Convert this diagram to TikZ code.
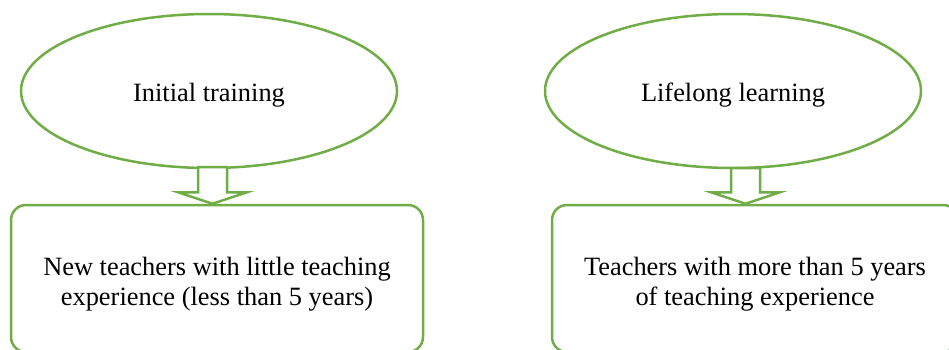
\documentclass[tikz,border=0pt]{standalone}
\usepackage{fontspec}
\setmainfont{Liberation Serif}
\usetikzlibrary{shapes.geometric,calc}
\definecolor{leafgreen}{HTML}{70AD47}

\begin{document}
\begin{tikzpicture}[x=0.5pt,y=-0.5pt,
        oval/.style={ellipse,draw=leafgreen,line width=1.25pt,minimum width=188pt,minimum height=77pt,text height=13pt,font=\fontsize{13.2}{15}\selectfont},
        group/.style={rectangle,rounded corners=7.5pt,draw=leafgreen,line width=1.25pt,minimum height=73.5pt,align=center,font=\fontsize{13.2}{15}\selectfont},
        blockarr/.style={draw=leafgreen,line width=1.25pt,fill=white,line join=miter,
            to path={let \p1=(\tikztostart), \p2=(\tikztotarget) in
                (\x1-7.25pt,\y1) -- (\x1-7.25pt,\y2+5.75pt) -- (\x1-17.25pt,\y2+5.75pt) -- (\x2,\y2)
                -- (\x1+17.25pt,\y2+5.75pt) -- (\x1+7.25pt,\y2+5.75pt) -- (\x1+7.25pt,\y1) -- cycle}}]
        \useasboundingbox (0,0) rectangle (949,349);

        \node[oval] at (209,91) (init) {Initial training};
        \node[oval] at (733,91) (life) {Lifelong learning};

        \node[group,minimum width=206pt] at (217,278.5) (newt) {\rule{0pt}{15pt}New teachers with little teaching\\experience (less than 5 years)};
        \node[group,minimum width=203pt] at (755,278.5) (expt) {\rule{0pt}{15pt}Teachers with more than 5 years\\of teaching experience};

        \coordinate (initdown) at (212.5,167);
        \coordinate (lifedown) at (745.5,168);

        \path
        (initdown) edge [blockarr] (initdown |- newt.north)
        (lifedown) edge [blockarr] (lifedown |- expt.north)
        ;
\end{tikzpicture}
\end{document}
